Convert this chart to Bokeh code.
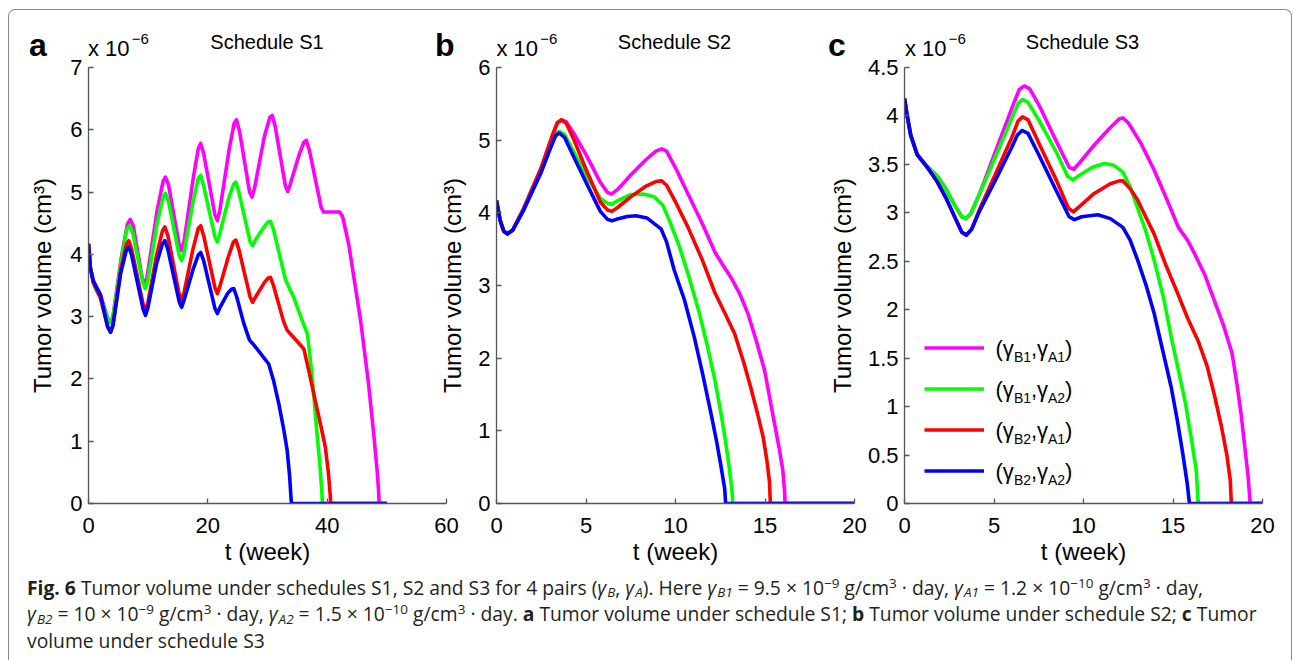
from bokeh.plotting import figure
from bokeh.models import Range1d, FixedTicker, Label, Legend, LegendItem, Div
from bokeh.layouts import row, column
from bokeh.embed import file_html
from bokeh.resources import INLINE

# ---------------- data ----------------
colors = ["#ff00ff", "#00ff00", "#ff0000", "#0000ff"]

# Schedule S1 (panel a)
a_t_mag = [0, 0.3, 0.8, 2.0, 3.2, 3.7, 4.1, 5.5, 6.5, 7.0, 7.5, 9.0, 9.4, 9.8, 11.5, 12.5, 12.9, 13.4, 15.2, 15.6,
           16.0, 17.6, 18.4, 18.8, 19.3, 21.2, 21.6, 22.0, 23.6, 24.4, 24.8, 25.3, 27.0, 27.4, 27.8, 29.5, 30.4,
           30.8, 31.3, 33.0, 33.4, 33.8, 35.3, 36.1, 36.5, 37.0, 39.0, 39.4, 42.1, 42.6, 43.6, 45.6, 46.9, 47.8,
           48.4, 48.65, 48.7, 50]
a_v_mag = [4.17, 3.8, 3.58, 3.35, 2.98, 2.9, 3.0, 3.95, 4.48, 4.56, 4.46, 3.62, 3.52, 3.62, 4.7, 5.17, 5.24, 5.12,
           4.15, 4.06, 4.2, 5.25, 5.7, 5.78, 5.62, 4.63, 4.54, 4.7, 5.7, 6.1, 6.16, 5.98, 5.0, 4.92, 5.05, 5.9, 6.2,
           6.23, 6.05, 5.1, 5.01, 5.12, 5.6, 5.8, 5.83, 5.68, 4.75, 4.68, 4.68, 4.6, 4.17, 2.94, 1.95, 1.12,
           0.5, 0.15, 0, 0]
a_t_grn = [0, 0.3, 0.8, 1.3, 2.0, 3.2, 3.7, 4.1, 5.5, 6.4, 6.9, 7.4, 9.1, 9.5, 9.9, 11.5, 12.5, 12.9, 13.4, 15.2,
           15.6, 16.0, 17.6, 18.4, 18.8, 19.3, 21.2, 21.6, 22.0, 23.5, 24.3, 24.7, 25.2, 27.1, 27.5, 27.9, 29.5,
           30.1, 30.5, 31.0, 33.0, 33.6, 34.4, 35.8, 36.7, 37.5, 38.3, 38.8, 39.1, 39.2, 50]
a_v_grn = [4.17, 3.8, 3.55, 3.42, 3.3, 2.98, 2.9, 3.0, 3.9, 4.4, 4.46, 4.35, 3.55, 3.45, 3.56, 4.5, 4.92, 4.98, 4.85,
           3.98, 3.9, 4.02, 4.88, 5.22, 5.27, 5.1, 4.28, 4.2, 4.33, 4.9, 5.12, 5.16, 5.0, 4.2, 4.14, 4.22, 4.45,
           4.52, 4.53, 4.4, 3.6, 3.47, 3.31, 2.94, 2.72, 2.03, 1.12, 0.6, 0.2, 0, 0]
a_t_red = [0, 0.3, 0.8, 2.0, 3.2, 3.7, 4.1, 5.4, 6.35, 6.75, 7.2, 9.15, 9.55, 9.95, 11.4, 12.4, 12.8, 13.3, 15.2,
           15.6, 16.0, 17.5, 18.4, 18.8, 19.3, 21.2, 21.6, 22.0, 23.4, 24.3, 24.7, 25.2, 27.1, 27.5, 27.9, 29.5,
           30.1, 30.5, 31.0, 32.7, 33.3, 34.8, 36.1, 37.0, 38.0, 39.0, 39.7, 40.2, 40.5, 40.6, 50]
a_v_red = [4.17, 3.8, 3.55, 3.3, 2.84, 2.75, 2.86, 3.75, 4.16, 4.22, 4.1, 3.2, 3.10, 3.22, 3.98, 4.38, 4.44, 4.3,
           3.36, 3.26, 3.38, 4.08, 4.42, 4.46, 4.3, 3.46, 3.37, 3.48, 3.95, 4.2, 4.23, 4.08, 3.31, 3.23, 3.3, 3.55,
           3.62, 3.63, 3.5, 2.92, 2.78, 2.62, 2.48, 2.1, 1.65, 1.22, 0.9, 0.5, 0.15, 0, 0]
a_t_blu = [0, 0.3, 0.8, 2.0, 3.2, 3.7, 4.1, 5.4, 6.35, 6.75, 7.2, 9.15, 9.55, 9.95, 11.4, 12.4, 12.8, 13.3, 15.2,
           15.6, 16.0, 17.5, 18.4, 18.8, 19.3, 21.2, 21.6, 22.0, 23.3, 23.95, 24.35, 24.8, 26.0, 27.0, 27.5, 28.5,
           30.2, 31.0, 31.9, 32.7, 33.3, 33.7, 33.9, 34.0, 50]
a_v_blu = [4.17, 3.78, 3.57, 3.35, 2.84, 2.75, 2.86, 3.7, 4.07, 4.12, 4.0, 3.12, 3.02, 3.14, 3.85, 4.17, 4.22, 4.08,
           3.24, 3.15, 3.26, 3.75, 3.99, 4.03, 3.9, 3.13, 3.05, 3.14, 3.37, 3.44, 3.45, 3.33, 2.9, 2.62, 2.57, 2.45,
           2.24, 1.98, 1.6, 1.2, 0.85, 0.45, 0.15, 0, 0]

# Schedule S2 (panel b)
b_t_mag = [0, 0.2, 0.4, 0.6, 0.9, 1.5, 2.5, 3.1, 3.4, 3.64, 3.9, 4.3, 5.0, 5.8, 6.2, 6.45, 6.8, 7.5, 8.3, 8.9,
           9.23, 9.5, 10.0, 10.7, 11.5, 12.2, 12.6, 13.1, 13.6, 14.05, 14.5, 14.98, 15.5, 15.8, 16.0, 16.1, 16.12, 20]
b_v_mag = [4.17, 3.9, 3.75, 3.71, 3.76, 4.05, 4.62, 5.05, 5.24, 5.28, 5.25, 5.1, 4.8, 4.42, 4.28, 4.26, 4.33, 4.52,
           4.72, 4.85, 4.88, 4.85, 4.62, 4.26, 3.85, 3.46, 3.3, 3.11, 2.88, 2.61, 2.25, 1.83, 1.14, 0.75, 0.45,
           0.15, 0, 0]
b_t_grn = [0, 0.2, 0.4, 0.6, 0.9, 1.5, 2.5, 3.0, 3.3, 3.5, 3.8, 4.3, 5.0, 5.8, 6.2, 6.45, 6.8, 7.5, 8.2, 8.81,
           9.3, 9.65, 10.2, 10.7, 11.3, 11.8, 12.2, 12.55, 12.8, 13.0, 13.15, 13.2, 20]
b_v_grn = [4.17, 3.9, 3.75, 3.71, 3.76, 4.03, 4.58, 4.9, 5.08, 5.12, 5.08, 4.85, 4.52, 4.2, 4.13, 4.12, 4.17, 4.25,
           4.26, 4.22, 4.1, 3.9, 3.55, 3.16, 2.65, 2.15, 1.7, 1.23, 0.85, 0.5, 0.2, 0, 0]
b_t_red = [0, 0.2, 0.4, 0.6, 0.9, 1.5, 2.5, 3.1, 3.4, 3.64, 3.9, 4.3, 5.0, 5.8, 6.2, 6.45, 6.8, 7.5, 8.3, 8.9,
           9.23, 9.5, 10.0, 10.7, 11.5, 12.2, 12.7, 13.3, 13.8, 14.2, 14.6, 14.9, 15.1, 15.25, 15.3, 20]
b_v_red = [4.17, 3.9, 3.75, 3.71, 3.76, 4.05, 4.62, 5.05, 5.24, 5.28, 5.23, 5.02, 4.6, 4.15, 4.04, 4.02, 4.08, 4.22,
           4.36, 4.43, 4.44, 4.38, 4.15, 3.80, 3.35, 2.9, 2.65, 2.34, 1.95, 1.60, 1.22, 0.91, 0.6, 0.3, 0, 0]
b_t_blu = [0, 0.2, 0.4, 0.6, 0.9, 1.5, 2.5, 3.0, 3.3, 3.49, 3.8, 4.3, 5.0, 5.8, 6.2, 6.45, 6.8, 7.3, 7.8, 8.4,
           9.19, 9.5, 9.93, 10.5, 11.05, 11.5, 11.99, 12.3, 12.55, 12.75, 12.8, 20]
b_v_blu = [4.17, 3.9, 3.75, 3.71, 3.76, 4.03, 4.56, 4.88, 5.06, 5.10, 5.04, 4.78, 4.42, 4.02, 3.91, 3.89, 3.92, 3.95,
           3.96, 3.93, 3.78, 3.6, 3.21, 2.8, 2.29, 1.8, 1.23, 0.85, 0.5, 0.2, 0, 0]

# Schedule S3 (panel c)
c_t_mag = [0, 0.15, 0.35, 0.71, 1.27, 1.83, 2.3, 2.8, 3.2, 3.42, 3.7, 4.2, 5.2, 6.0, 6.4, 6.69, 7.0, 7.6, 8.5,
           9.2, 9.45, 9.8, 10.6, 11.5, 12.0, 12.2, 12.5, 13.2, 13.95, 14.7, 15.3, 15.8, 16.2, 16.8, 17.3, 17.8,
           18.3, 18.6, 18.8, 19.0, 19.2, 19.3, 19.32, 20]
c_v_mag = [4.18, 4.0, 3.8, 3.6, 3.48, 3.38, 3.25, 3.08, 2.96, 2.94, 2.99, 3.2, 3.69, 4.08, 4.27, 4.31, 4.28, 4.08,
           3.73, 3.47, 3.45, 3.52, 3.7, 3.88, 3.97, 3.98, 3.93, 3.72, 3.44, 3.12, 2.85, 2.72, 2.58, 2.35, 2.10,
           1.85, 1.55, 1.2, 0.93, 0.6, 0.27, 0.03, 0, 0]
c_t_grn = [0, 0.15, 0.35, 0.71, 1.27, 1.83, 2.3, 2.8, 3.2, 3.42, 3.7, 4.2, 5.2, 6.0, 6.35, 6.6, 6.9, 7.5, 8.5,
           9.1, 9.4, 9.8, 10.5, 11.17, 11.7, 12.2, 12.6, 13.0, 13.5, 13.95, 14.5, 14.9, 15.3, 15.7, 16.0, 16.3,
           16.4, 16.42, 20]
c_v_grn = [4.18, 4.0, 3.8, 3.6, 3.48, 3.38, 3.25, 3.08, 2.96, 2.94, 2.99, 3.2, 3.63, 3.98, 4.13, 4.17, 4.14, 3.96,
           3.62, 3.38, 3.34, 3.39, 3.47, 3.51, 3.49, 3.42, 3.27, 3.06, 2.8, 2.51, 2.1, 1.72, 1.38, 1.03, 0.7,
           0.34, 0.03, 0, 0]
c_t_red = [0, 0.15, 0.35, 0.71, 1.27, 1.83, 2.3, 2.8, 3.2, 3.46, 3.75, 4.2, 5.2, 6.0, 6.35, 6.6, 6.9, 7.5, 8.5,
           9.15, 9.43, 9.8, 10.6, 11.5, 12.0, 12.2, 12.6, 13.03, 13.5, 13.95, 14.6, 15.28, 15.8, 16.4, 16.9,
           17.3, 17.7, 18.0, 18.2, 18.25, 18.27, 20]
c_v_red = [4.18, 4.0, 3.8, 3.6, 3.47, 3.32, 3.16, 2.96, 2.8, 2.77, 2.83, 3.04, 3.45, 3.78, 3.95, 3.99, 3.96, 3.72,
           3.33, 3.05, 3.01, 3.07, 3.2, 3.3, 3.33, 3.33, 3.25, 3.13, 2.95, 2.78, 2.46, 2.16, 1.92, 1.68, 1.42,
           1.13, 0.8, 0.51, 0.24, 0.03, 0, 0]
c_t_blu = [0, 0.15, 0.35, 0.71, 1.27, 1.83, 2.3, 2.8, 3.2, 3.46, 3.75, 4.2, 5.2, 6.0, 6.3, 6.56, 6.9, 7.5, 8.5,
           9.2, 9.49, 9.9, 10.8, 11.5, 12.2, 12.6, 13.03, 13.5, 13.95, 14.4, 14.9, 15.25, 15.55, 15.8, 15.9,
           15.92, 20]
c_v_blu = [4.18, 4.0, 3.8, 3.6, 3.47, 3.32, 3.16, 2.96, 2.8, 2.77, 2.83, 3.02, 3.38, 3.68, 3.8, 3.85, 3.82, 3.6,
           3.22, 2.96, 2.93, 2.96, 2.98, 2.94, 2.85, 2.72, 2.51, 2.25, 1.96, 1.6, 1.20, 0.85, 0.51, 0.2, 0.03,
           0, 0]

a_xticks = [0, 20, 40, 60]
bc_xticks = [0, 5, 10, 15, 20]
a_yticks = [0, 1, 2, 3, 4, 5, 6, 7]
a_ylabels = ["0", "1", "2", "3", "4", "5", "6", "7"]
b_yticks = [0, 1, 2, 3, 4, 5, 6]
b_ylabels = ["0", "1", "2", "3", "4", "5", "6"]
c_yticks = [0, 0.5, 1, 1.5, 2, 2.5, 3, 3.5, 4, 4.5]
c_ylabels = ["0", "0.5", "1", "1.5", "2", "2.5", "3", "3.5", "4", "4.5"]

titles = ["Schedule S1", "Schedule S2", "Schedule S3"]
letters = ["a", "b", "c"]
x_label = "t (week)"
y_label = "Tumor volume (cm³)"
legend_subs = [("B1", "A1"), ("B1", "A2"), ("B2", "A1"), ("B2", "A2")]

FONT = "Liberation Sans"
AXC = "#555555"


def make_panel(xmax, ymax, xticks, yticks, ylabels, series, left, right, ylab_standoff, margin_left):
    p = figure(frame_width=358, frame_height=436,
               x_range=Range1d(0, xmax), y_range=Range1d(0, ymax),
               min_border_left=left, min_border_right=right,
               min_border_top=15, min_border_bottom=65,
               output_backend="svg", toolbar_location=None,
               margin=(0, 0, 0, margin_left))
    p.background_fill_alpha = 0
    p.border_fill_alpha = 0
    p.outline_line_color = None
    p.xgrid.visible = False
    p.ygrid.visible = False
    rends = []
    for (t, v), c in zip(series, colors):
        rends.append(p.line(t, v, line_color=c, line_width=3.6, line_join="round"))

    p.xaxis.ticker = FixedTicker(ticks=xticks)
    p.yaxis.ticker = FixedTicker(ticks=yticks)
    p.yaxis.major_label_overrides = {float(k): s for k, s in zip(yticks, ylabels)}
    for ax in (p.xaxis[0], p.yaxis[0]):
        ax.axis_line_color = AXC
        ax.axis_line_width = 1.3
        ax.major_tick_line_color = AXC
        ax.major_tick_line_width = 1.3
        ax.major_tick_in = 5
        ax.major_tick_out = 0
        ax.minor_tick_line_color = None
        ax.major_label_text_font = FONT
        ax.major_label_text_font_size = "22px"
        ax.major_label_text_color = "black"
        ax.axis_label_text_font = FONT
        ax.axis_label_text_font_size = "24px"
        ax.axis_label_text_font_style = "normal"
        ax.axis_label_text_color = "black"
    p.xaxis.axis_label = x_label
    p.yaxis.axis_label = y_label
    p.xaxis.major_label_standoff = 14
    p.xaxis.axis_label_standoff = 2
    p.yaxis.major_label_standoff = 6
    p.yaxis.axis_label_standoff = ylab_standoff
    return p, rends


pa, _ = make_panel(60, 7, a_xticks, a_yticks, a_ylabels,
                   [(a_t_mag, a_v_mag), (a_t_grn, a_v_grn), (a_t_red, a_v_red), (a_t_blu, a_v_blu)],
                   79, 14, 11, 0)
pb, _ = make_panel(20, 6, bc_xticks, b_yticks, b_ylabels,
                   [(b_t_mag, b_v_mag), (b_t_grn, b_v_grn), (b_t_red, b_v_red), (b_t_blu, b_v_blu)],
                   64, 14, 9, -28)
pc, rc = make_panel(20, 4.5, bc_xticks, c_yticks, c_ylabels,
                    [(c_t_mag, c_v_mag), (c_t_grn, c_v_grn), (c_t_red, c_v_red), (c_t_blu, c_v_blu)],
                    86, 20, 9, -50)

# legend: line samples via Legend, labels with subscripts via Labels
leg = Legend(items=[LegendItem(label=" ", renderers=[r]) for r in rc],
             location=(20, 12), glyph_width=60, glyph_height=41, label_height=41,
             label_width=0, label_standoff=0, spacing=0, padding=0, margin=0,
             border_line_color=None, background_fill_alpha=0, label_text_font_size="8px")
pc.add_layout(leg)

for i, (sb, sa) in enumerate(legend_subs):
    yc = 12 + (4 - i) * 41 - 20.5
    pieces = [("(γ", 91, yc, "22px"), (sb, 109.5, yc - 9, "14px"),
              (",γ", 126.5, yc, "22px"), (sa, 143.5, yc - 9, "14px"),
              (")", 160.5, yc, "22px")]
    for txt, dx, dy, fs in pieces:
        pc.add_layout(Label(x=0, y=0, x_offset=dx, y_offset=dy, text=txt, text_font=FONT,
                            text_font_size=fs, text_baseline="alphabetic", text_color="black"))


# header texts above the plot frames (panel letter, exponent, title)
def span(txt, x, baseline, size, bold=False, center=False):
    top = baseline - 10 - 0.8465 * size
    st = (f"position:absolute;left:{x - 9:.1f}px;top:{top:.1f}px;font-size:{size}px;"
          f"line-height:{size}px;white-space:nowrap;")
    if bold:
        st += "font-weight:bold;"
    if center:
        st += "transform:translateX(-50%);"
    return f'<span style="{st}">{txt}</span>'


hdr = []
for L, lx, ex, tc, tt in zip(letters, [29, 435, 828], [88, 496.5, 905], [267, 674.5, 1082.5], titles):
    hdr.append(span(L, lx, 56.5, 32, bold=True))
    hdr.append(span("x 10", ex, 56.7, 22))
    hdr.append(span("−6", ex + 43.7, 43.5, 15))
    hdr.append(span(tt, tc, 49, 20, center=True))
header = Div(text=('<div style="position:relative;width:1282px;height:42px;'
                   "font-family:'Liberation Sans',Arial,sans-serif;color:#000\">" + "".join(hdr) + "</div>"),
             width=1282, height=42, margin=0)

SUB = '<sub style="font-size:70%;line-height:0;vertical-align:-0.2em;margin-left:1px">'
SUP = '<sup style="font-size:70%;line-height:0">'


def g(s):
    return f'<i>γ{SUB}{s}</sub></i>'


caption = (
    f'<b>Fig. 6</b> Tumor volume under schedules S1, S2 and S3 for 4 pairs ({g("B")}, {g("A")}). '
    f'Here {g("B1")} = 9.5 × 10{SUP}−9</sup> g/cm{SUP}3</sup> · day, '
    f'{g("A1")} = 1.2 × 10{SUP}−10</sup> g/cm{SUP}3</sup> · day,<br>'
    f'{g("B2")} = 10 × 10{SUP}−9</sup> g/cm{SUP}3</sup> · day, '
    f'{g("A2")} = 1.5 × 10{SUP}−10</sup> g/cm{SUP}3</sup> · day. '
    f'<b>a</b> Tumor volume under schedule S1; <b>b</b> Tumor volume under schedule S2; <b>c</b> Tumor<br>'
    f'volume under schedule S3'
)
cap = Div(text=("<div style=\"font-family:'Open Sans','Noto Sans',sans-serif;font-size:19.3px;"
                "line-height:26.5px;color:#231f20;padding:6.5px 0 0 18px;white-space:nowrap\">"
                + caption + "</div>"),
          width=1282, height=92, margin=0)

page = column(header, row(pa, pb, pc), cap, margin=(9, 0, 0, 8),
              styles={"border-top": "1px solid #8a8a8a", "border-left": "1px solid #8a8a8a",
                      "border-right": "1px solid #8a8a8a", "border-radius": "7px 7px 0 0"})

open("out.html", "w").write(file_html(page, INLINE))
